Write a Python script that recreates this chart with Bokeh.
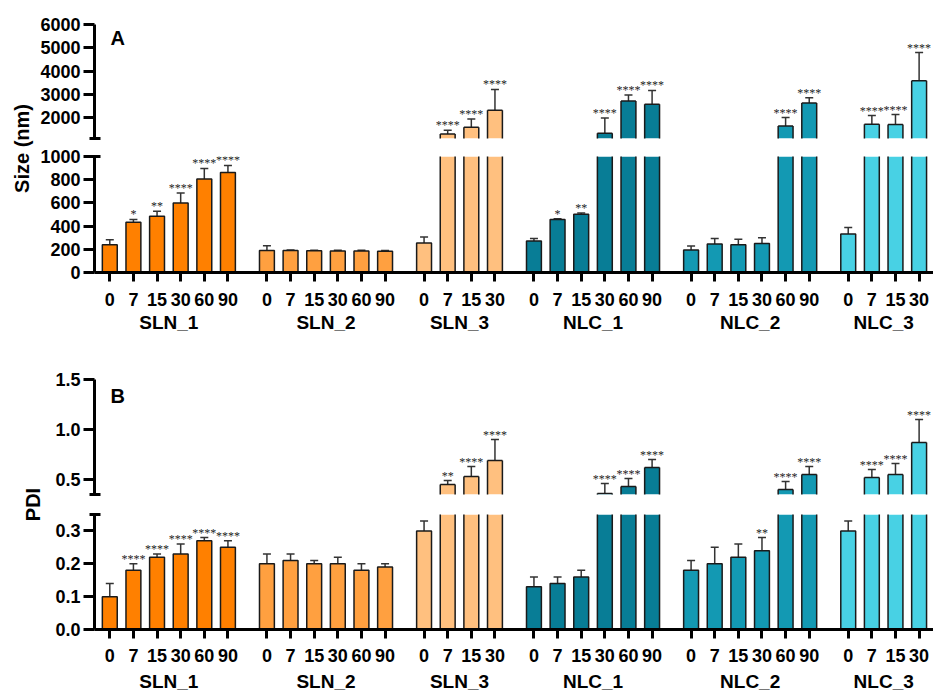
import math
from bokeh.plotting import figure
from bokeh.models import (ColumnDataSource, Range1d, FixedTicker, CustomJSTickFormatter,
                          LinearAxis, Whisker, TeeHead, LabelSet, Label, PrintfTickFormatter)
from bokeh.layouts import row, column
from bokeh.embed import file_html
from bokeh.resources import INLINE

# ---------------- data ----------------
group_names = ["SLN_1", "SLN_2", "SLN_3", "NLC_1", "NLC_2", "NLC_3"]
group_counts = [6, 6, 4, 6, 6, 4]
day_labels = ["0", "7", "15", "30", "60", "90"]
group_colors = ["#FF8000", "#FFA040", "#FFC07F", "#087D96", "#1399B3", "#48D1E4"]

size_mean = [240, 434, 485, 600, 806, 863,
             190, 189, 187, 186, 186, 184,
             254, 1296, 1584, 2317,
             271, 457, 503, 1326, 2707, 2577,
             194, 245, 240, 249, 1641, 2621,
             331, 1714, 1697, 3583]
size_sd = [43, 23, 43, 86, 91, 60,
           40, 6, 5, 5, 5, 6,
           51, 159, 359, 891,
           23, 6, 11, 660, 259, 588,
           34, 49, 46, 51, 359, 229,
           57, 372, 432, 1209]
size_sig = ["", "*", "**", "****", "****", "****",
            "", "", "", "", "", "",
            "", "****", "****", "****",
            "", "*", "**", "****", "****", "****",
            "", "", "", "", "****", "****",
            "", "****", "****", "****"]

pdi_mean = [0.10, 0.18, 0.22, 0.23, 0.27, 0.25,
            0.20, 0.21, 0.20, 0.20, 0.18, 0.19,
            0.30, 0.45, 0.53, 0.69,
            0.13, 0.14, 0.16, 0.36, 0.43, 0.62,
            0.18, 0.20, 0.22, 0.24, 0.40, 0.55,
            0.30, 0.52, 0.55, 0.87]
pdi_sd = [0.04, 0.02, 0.01, 0.03, 0.01, 0.02,
          0.03, 0.02, 0.01, 0.02, 0.02, 0.01,
          0.03, 0.04, 0.10, 0.21,
          0.03, 0.02, 0.02, 0.10, 0.08, 0.08,
          0.03, 0.05, 0.04, 0.04, 0.08, 0.08,
          0.03, 0.08, 0.11, 0.23]
pdi_sig = ["", "****", "****", "****", "****", "****",
           "", "", "", "", "", "",
           "", "**", "****", "****",
           "", "", "", "****", "****", "****",
           "", "", "", "**", "****", "****",
           "", "****", "****", "****"]

# ---------------- layout helpers ----------------
FONT = "Liberation Sans"
GAP = 0.65
BAR_W = 0.63
positions, tick_text, colors, group_centers = [], [], [], []
k = 0
for gi, n in enumerate(group_counts):
    ps = []
    for j in range(n):
        x = round(k + gi * GAP, 4)
        ps.append(x)
        positions.append(x)
        tick_text.append(day_labels[j])
        colors.append(group_colors[gi])
        k += 1
    group_centers.append(round(sum(ps) / len(ps), 4))

X0 = -0.647
FRAME_W = 839
X1 = X0 + FRAME_W / 23.63

fmt_code = """
for (let i = 0; i < pos.length; i++) { if (Math.abs(tick - pos[i]) < 1e-6) return labs[i]; }
return "";
"""
EDGE = "#1a1a1a"


def cds(idx, mean, sd, sig):
    return ColumnDataSource(dict(
        x=[positions[i] for i in idx],
        xl=[positions[i] - BAR_W / 2 for i in idx],
        xr=[positions[i] + BAR_W / 2 for i in idx],
        top=[mean[i] for i in idx],
        upper=[mean[i] + sd[i] for i in idx],
        sig=[sig[i] for i in idx],
        color=[colors[i] for i in idx]))


def make_seg(mean, sd, sig, y0, y1, bl, bt, bb, frame_h, yticks, yminor, yfmt,
             bottom_axis, seg, xa_standoff=11, ga_standoff=-3):
    h = bt + frame_h + bb
    p = figure(width=bl + FRAME_W, height=h, x_range=Range1d(X0, X1), y_range=Range1d(y0, y1),
               output_backend="svg", toolbar_location=None, x_axis_location=None,
               y_axis_location=None, min_border_left=bl, min_border_right=0,
               min_border_top=bt, min_border_bottom=bb)
    p.outline_line_color = None
    p.grid.visible = False
    p.background_fill_color = "white"
    p.border_fill_color = "white"

    n = len(mean)
    if seg == "top":
        whole = []
        broken = [i for i in range(n) if mean[i] >= y0]
        shown = broken
    else:
        whole = [i for i in range(n) if mean[i] < y1]
        broken = [i for i in range(n) if mean[i] >= y1]
        shown = whole

    # complete bars
    ws = cds(whole, mean, sd, sig)
    p.vbar(x="x", top="top", bottom=0, width=BAR_W, fill_color="color",
           line_color=EDGE, line_width=1.5, source=ws)
    # bars cut by the axis break
    bs = cds(broken, mean, sd, sig)
    p.vbar(x="x", top="top", bottom=0, width=BAR_W, fill_color="color",
           line_color=None, source=bs)
    p.segment(x0="xl", y0=0, x1="xl", y1="top", line_color=EDGE, line_width=1.5, source=bs)
    p.segment(x0="xr", y0=0, x1="xr", y1="top", line_color=EDGE, line_width=1.5, source=bs)
    if seg == "top":
        p.segment(x0="xl", y0="top", x1="xr", y1="top", line_color=EDGE, line_width=1.5,
                  source=bs)

    es = cds(shown, mean, sd, sig)
    p.add_layout(Whisker(source=es, base="x", lower="top", upper="upper", dimension="height",
                         line_color="#333333", line_width=1.5,
                         upper_head=TeeHead(size=8, line_color="#333333", line_width=1.5),
                         lower_head=None))
    p.add_layout(LabelSet(source=es, x="x", y="upper", text="sig", text_align="center",
                          text_baseline="alphabetic", y_offset=1, text_font_size="12px",
                          text_font=FONT, text_color="#222222"))

    ya = LinearAxis(ticker=FixedTicker(ticks=yticks, minor_ticks=yminor))
    if yfmt:
        ya.formatter = PrintfTickFormatter(format=yfmt)
    ya.axis_line_width = 3
    ya.major_tick_line_width = 3
    ya.major_tick_out = 11
    ya.major_tick_in = 0
    ya.minor_tick_line_width = 3
    ya.minor_tick_out = 5
    ya.minor_tick_in = 6
    ya.major_label_standoff = 3
    ya.major_label_text_font = FONT
    ya.major_label_text_font_style = "bold"
    ya.major_label_text_font_size = "18px"
    ya.major_label_text_color = "black"
    p.add_layout(ya, "left")

    if bottom_axis:
        xa = LinearAxis(ticker=FixedTicker(ticks=positions),
                        formatter=CustomJSTickFormatter(args=dict(pos=positions, labs=tick_text),
                                                        code=fmt_code))
        xa.axis_line_width = 3
        xa.major_tick_line_width = 3
        xa.major_tick_out = 9
        xa.major_tick_in = 0
        xa.minor_tick_line_color = None
        xa.major_label_standoff = xa_standoff
        xa.major_label_text_font = FONT
        xa.major_label_text_font_style = "bold"
        xa.major_label_text_font_size = "18px"
        xa.major_label_text_color = "black"
        p.add_layout(xa, "below")

        ga = LinearAxis(ticker=FixedTicker(ticks=group_centers),
                        formatter=CustomJSTickFormatter(args=dict(pos=group_centers, labs=group_names),
                                                        code=fmt_code))
        ga.axis_line_color = None
        ga.major_tick_line_color = None
        ga.minor_tick_line_color = None
        ga.major_tick_out = 0
        ga.major_tick_in = 0
        ga.major_label_standoff = ga_standoff
        ga.major_label_text_font = FONT
        ga.major_label_text_font_style = "bold"
        ga.major_label_text_font_size = "19px"
        ga.major_label_text_color = "black"
        p.add_layout(ga, "below")
    return p


def make_label_fig(w, h, text, fx, fy):
    p = figure(width=w, height=h, x_range=Range1d(0, 1), y_range=Range1d(0, 1),
               output_backend="svg", toolbar_location=None, x_axis_location=None,
               y_axis_location=None, min_border=0)
    p.outline_line_color = None
    p.grid.visible = False
    p.add_layout(Label(x=fx, y=fy, text=text, angle=math.pi / 2, text_align="center",
                       text_baseline="middle", text_font=FONT, text_font_style="bold",
                       text_font_size="20px", text_color="black"))
    return p


# ---------------- panel A ----------------
topA = make_seg(size_mean, size_sd, size_sig, 1100, 6000, 58, 24, 9, 114,
                [2000, 3000, 4000, 5000, 6000], [1100], None, False, "top")
botA = make_seg(size_mean, size_sd, size_sig, 0, 1000, 58, 9, 66, 116,
                [0, 200, 400, 600, 800, 1000], [1000], None, True, "bottom",
                xa_standoff=11, ga_standoff=3)
topA.add_layout(Label(x=0.03, y=5440, text="A", text_align="left", text_baseline="middle",
                      text_font=FONT, text_font_style="bold", text_font_size="20px",
                      text_color="black"))
labA = make_label_fig(36, topA.height + botA.height, "Size (nm)", 0.611,
                      1 - 148 / (topA.height + botA.height))

# ---------------- panel B ----------------
topB = make_seg(pdi_mean, pdi_sd, pdi_sig, 0.35, 1.5, 46, 41, 10, 115,
                [0.5, 1.0, 1.5], [0.35], "%.1f", False, "top")
botB = make_seg(pdi_mean, pdi_sd, pdi_sig, 0.0, 0.35, 46, 10, 66, 115,
                [0.0, 0.1, 0.2, 0.3], [0.35], "%.1f", True, "bottom",
                xa_standoff=10, ga_standoff=6)
topB.add_layout(Label(x=0.03, y=1.34, text="B", text_align="left", text_baseline="middle",
                      text_font=FONT, text_font_style="bold", text_font_size="20px",
                      text_color="black"))
hB = topB.height + botB.height
labB = make_label_fig(48, hB, "PDI", 32 / 48, 1 - (41 + 125) / hB)

layout = column(row(labA, column(topA, botA)), row(labB, column(topB, botB)))

open("out.html", "w").write(file_html(layout, INLINE))
